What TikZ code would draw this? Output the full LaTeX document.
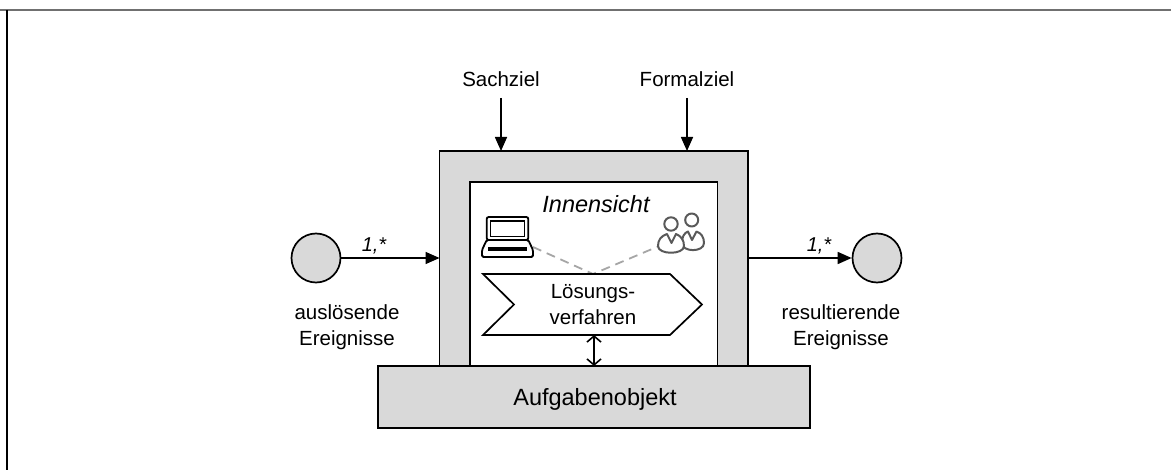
\documentclass[tikz,border=0pt]{standalone}
\usepackage{fontspec}
\setmainfont{Liberation Sans}
\usetikzlibrary{arrows.meta}
\definecolor{boxgray}{HTML}{D9D9D9}
\definecolor{dashgray}{HTML}{A6A6A6}
\definecolor{icongray}{HTML}{595959}
\definecolor{framegray}{HTML}{707070}
\begin{document}
\begin{tikzpicture}[x=1pt,y=-1pt,
  box/.style={draw=black, line width=1.7pt, inner sep=0pt, outer sep=0pt},
  arr/.style={line width=1.6pt, -{Triangle[length=14pt,width=12pt]}},
  dbl/.style={line width=1.6pt, {Straight Barb[length=6pt,width=14pt]}-{Straight Barb[length=6pt,width=14pt]}},
  lbl/.style={font=\fontsize{20.5}{25.5}\selectfont, inner sep=0pt},
  lblit/.style={font=\fontsize{20}{24}\selectfont\itshape, inner sep=0pt},
  lblbig/.style={font=\fontsize{23.5}{28}\selectfont, inner sep=0pt},
  event/.style={circle, draw=black, line width=1.7pt, fill=boxgray, minimum size=49pt, inner sep=0pt},
  icon/.style={draw=icongray, line width=2pt, fill=white, line join=round},
  dashln/.style={draw=dashgray, line width=1.8pt, dash pattern=on 9pt off 6pt}
]
\useasboundingbox (0,0) rectangle (1171,470);
% frame
\draw[framegray, line width=2pt] (0,10) -- (1171,10);
\draw[black, line width=1.6pt] (7,10) -- (7,470);

% boxes
\node[box, fill=boxgray, minimum width=308.5pt, minimum height=215pt] (outer) at (593.75,258.5) {};
\node[box, fill=white, minimum width=247.5pt, minimum height=184.3pt] (inner) at (593.75,273.85) {};
\node[box, fill=boxgray, minimum width=432pt, minimum height=62pt] (auf) at (594,397) {};
\node[lblbig, anchor=base] (auftxt) at (595,406) {Aufgabenobjekt};

% events
\node[event] (ev1) at (316,258) {};
\node[event] (ev2) at (877,258) {};
\draw[arr] (ev1.east) -- (ev1.east -| outer.west);
\draw[arr] (outer.east |- ev2.west) -- (ev2.west);
\node[lblit, anchor=base] (m1) at (374,251.7) {1,*};
\node[lblit, anchor=base] (m2) at (819,251.7) {1,*};
\node[lbl, align=center, anchor=base] (t1) at (347,345.5) {auslösende\\Ereignisse};
\node[lbl, align=center, anchor=base] (t2) at (841,345.5) {resultierende\\Ereignisse};

% goals
\node[lbl, anchor=base] (sach) at (501,87) {Sachziel};
\node[lbl, anchor=base] (form) at (687,87) {Formalziel};
\coordinate (sachs) at (501,98);
\coordinate (forms) at (687,98);
\draw[arr] (sachs) -- (sachs |- outer.north);
\draw[arr] (forms) -- (forms |- outer.north);

% inner view
\node[lblbig, font=\fontsize{23.5}{28}\selectfont\itshape, anchor=base] (inn) at (596,213) {Innensicht};

% dashed lines
\coordinate (lapend) at (533,247);
\coordinate (chevtop) at (593,274);
\coordinate (pplend) at (658,246.5);
\draw[dashln] (lapend) -- (chevtop) -- (pplend);

% chevron
\draw[line width=1.7pt, fill=white] (483,274) -- (670,274) -- (702,304.5) -- (670,335) -- (483,335) -- (514,304.5) -- cycle;
\node[lbl, align=center, anchor=base] (proc) at (593,324.5) {Lösungs-\\verfahren};
\coordinate (chevbot) at (594,335);
\draw[dbl] (chevbot) -- (chevbot |- auf.north);

% laptop
\draw[line width=1.8pt, rounded corners=2pt, fill=white] (486.7,217) rectangle (528.3,240);
\draw[line width=1.4pt] (490.7,221) rectangle (524.3,236.5);
\draw[line width=1.8pt, rounded corners=1.5pt, fill=white] (486.7,240) -- (482,250) -- (482,257) -- (533,257) -- (533,250) -- (528.3,240) -- cycle;
\fill (488,247) rectangle (527,251);

% people
\draw[icon] (691.7,220) circle (6.5);
\draw[icon] (688,231.5) .. controls (684,233) and (682,237) .. (682,243) .. controls (682,252.5) and (704,252.5) .. (704,243) .. controls (704,237) and (701,233) .. (696.5,231.5) -- (692,240) -- cycle;
\draw[icon] (671,224) circle (6.7);
\draw[icon] (667,234) .. controls (661,236) and (658,240) .. (658,246) .. controls (658,255) and (684,255) .. (684,246) .. controls (684,240) and (681,236) .. (676,234) -- (671.5,243) -- cycle;
\end{tikzpicture}
\end{document}
